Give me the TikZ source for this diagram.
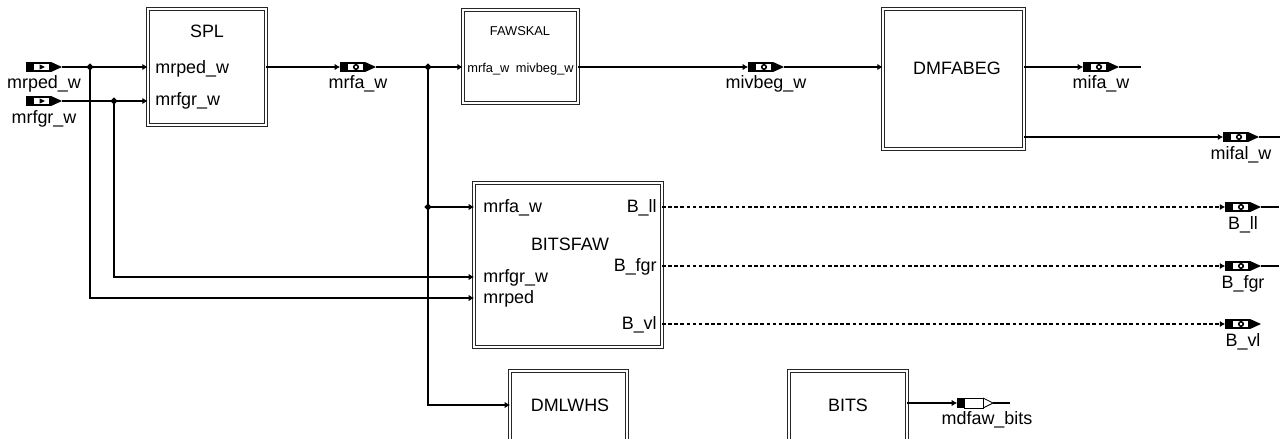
\documentclass[tikz,border=0pt]{standalone}
\usepackage{fontspec}
\setmainfont{Liberation Sans}
\usetikzlibrary{arrows.meta,shapes.geometric}
\tikzset{
  block/.style={draw=black!85,double,double distance=1.3pt,line width=0.45pt,fill=white,inner sep=0pt},
  lbl/.style={inner sep=0pt,anchor=base},
  pinl/.style={inner sep=0pt,anchor=base west},
  pinr/.style={inner sep=0pt,anchor=base east},
  small/.style={font=\fontsize{7.3}{9}\selectfont},
  sig/.style={-{Latex[length=3pt,width=3.6pt]},line width=0.6pt},
  wire/.style={line width=0.6pt},
  flag/.style={sig,dash pattern=on 2pt off 1.5pt},
  junc/.style={diamond,fill=black,inner sep=0pt,minimum size=0.15cm},
  pics/inport/.style={code={
    \fill (0,-5) rectangle (25,5);
    \fill[white] (8,-3.4) rectangle (23.4,3.4);
    \fill (13.5,-2.6) -- (19,0) -- (13.5,2.6) -- cycle;
    \fill (25,-5) -- (36,0) -- (25,5) -- cycle;
    \coordinate (-in) at (0,0);
    \coordinate (-out) at (36,0);
    \node[lbl] (-lbl) at (18,22) {#1};
  }},
  pics/sigport/.style={code={
    \fill (0,-5) rectangle (25,5);
    \fill[white] (8,-3.4) rectangle (23.4,3.4);
    \draw[line width=0.9pt] (16,0) circle [radius=0.045cm];
    \fill (25,-5) -- (36,0) -- (25,5) -- cycle;
    \coordinate (-in) at (0,0);
    \coordinate (-out) at (36,0);
    \node[lbl] (-lbl) at (18,22) {#1};
  }},
  pics/bitport/.style={code={
    \fill (0,-5) rectangle (7,5);
    \draw[line width=0.5pt] (7,-5) rectangle (26,5);
    \draw[line width=0.5pt] (26,-5) -- (36,0) -- (26,5);
    \coordinate (-in) at (0,0);
    \coordinate (-out) at (36,0);
    \node[lbl] (-lbl) at (30,21) {#1};
  }}
}
\begin{document}
\begin{tikzpicture}[x=0.02cm,y=-0.02cm,font=\fontsize{10.2}{12}\selectfont]
\useasboundingbox (0,0) rectangle (1280,439);
% blocks
\node[block,minimum width=2.36cm,minimum height=2.32cm] (spl) at (207,67) {};
\node[block,minimum width=2.3cm,minimum height=1.86cm] (fawskal) at (520.5,56.5) {};
\node[block,minimum width=2.82cm,minimum height=2.8cm] (dmfabeg) at (953.5,79) {};
\node[block,minimum width=3.76cm,minimum height=3.28cm] (bitsfaw) at (568,265) {};
\node[block,minimum width=2.34cm,minimum height=1.8cm] (dmlwhs) at (568.5,416) {};
\node[block,minimum width=2.36cm,minimum height=1.8cm] (bits) at (848,416) {};
% block texts
\node[lbl] (splT) at (207,38) {SPL};
\node[pinl] (splA) at (155,73) {mrped\_w};
\node[pinl] (splB) at (155,106) {mrfgr\_w};
\node[lbl,small] (fawT) at (520,36) {FAWSKAL};
\node[pinl,small] (fawA) at (467,72) {mrfa\_w};
\node[pinr,small] (fawB) at (574,72) {mivbeg\_w};
\node[lbl] (dmfT) at (957,74) {DMFABEG};
\node[lbl] (bfT) at (570,250) {BITSFAW};
\node[pinl] (bfA) at (483,212) {mrfa\_w};
\node[pinl] (bfB) at (483,282) {mrfgr\_w};
\node[pinl] (bfC) at (483,303) {mrped};
\node[pinr] (bfD) at (657,212) {B\_ll};
\node[pinr] (bfE) at (657,271) {B\_fgr};
\node[pinr] (bfF) at (657,329) {B\_vl};
\node[lbl] (lwT) at (570,411) {DMLWHS};
\node[lbl] (bitsT) at (848,411) {BITS};
% pins
\coordinate (bffa) at (474,207);
\coordinate (bffgr) at (474,277);
\coordinate (bfped) at (474,298);
\coordinate (bfll) at (662,207);
\coordinate (bfgr) at (662,266);
\coordinate (bfvl) at (662,324);
\coordinate (lwin) at (510,405);
% ports
\pic (pmrped) at (26,67) {inport=mrped\_w};
\pic (pmrfgr) at (26,101) {inport=mrfgr\_w};
\pic (pmrfa) at (340,67) {sigport=mrfa\_w};
\pic (pmivbeg) at (748,67) {sigport=mivbeg\_w};
\pic (pmifa) at (1083,67) {sigport=mifa\_w};
\pic (pmifal) at (1223,137) {sigport=mifal\_w};
\pic (pbll) at (1225,207) {sigport=B\_ll};
\pic (pbfgr) at (1225,266) {sigport=B\_fgr};
\pic (pbvl) at (1225,324) {sigport=B\_vl};
\pic (pmdfaw) at (957,403) {bitport=mdfaw\_bits};
% junctions
\node[junc] (jped) at (90,67) {};
\node[junc] (jfgr) at (114,101) {};
\node[junc] (jfa) at (428,67) {};
\node[junc] (jfa2) at (428,207) {};
% wires
\draw[sig] (pmrped-out) -- (spl.west |- pmrped-out);
\draw[sig] (pmrfgr-out) -- (spl.west |- pmrfgr-out);
\draw[sig] (jped.center) |- (bfped);
\draw[sig] (jfgr.center) |- (bffgr);
\draw[sig] (spl.east |- pmrfa-in) -- (pmrfa-in);
\draw[sig] (pmrfa-out) -- (fawskal.west |- pmrfa-out);
\draw[sig] (jfa.center) |- (lwin);
\draw[sig] (jfa2.center) -- (bffa);
\draw[sig] (fawskal.east |- pmivbeg-in) -- (pmivbeg-in);
\draw[sig] (pmivbeg-out) -- (dmfabeg.west |- pmivbeg-out);
\draw[sig] (dmfabeg.east |- pmifa-in) -- (pmifa-in);
\draw[wire] (pmifa-out) -- +(22,0);
\draw[sig] (dmfabeg.east |- pmifal-in) -- (pmifal-in);
\draw[wire] (pmifal-out) -- +(25,0);
\draw[flag] (bfll) -- (pbll-in);
\draw[wire] (pbll-out) -- +(18,0);
\draw[flag] (bfgr) -- (pbfgr-in);
\draw[wire] (pbfgr-out) -- +(18,0);
\draw[flag] (bfvl) -- (pbvl-in);
\draw[sig] (bits.east |- pmdfaw-in) -- (pmdfaw-in);
\draw[wire] (pmdfaw-out) -- +(17,0);
\end{tikzpicture}
\end{document}
